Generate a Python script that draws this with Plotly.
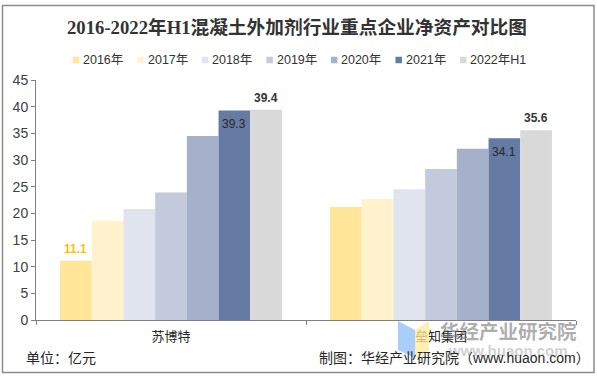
import plotly.graph_objects as go

W, H = 597, 376
L, R, T, B = 36, 21, 80, 56
PW, PH = W - L - R, H - T - B

categories = ["苏博特", "垒知集团"]
series_names = ["2016年", "2017年", "2018年", "2019年", "2020年", "2021年", "2022年H1"]
series_values = [
    [11.1, 21.2],
    [18.6, 22.7],
    [20.8, 24.5],
    [23.9, 28.3],
    [34.5, 32.1],
    [39.3, 34.1],
    [39.4, 35.6],
]
colors = ["#FFE699", "#FFF2CC", "#E0E4EE", "#C3CADB", "#A5B1CA", "#667BA3", "#D9D9D9"]
# (series index, category index, colour, bold, above the bar?)
value_labels = [
    (0, 0, "#FFC000", True, True),
    (5, 0, "#262626", False, False),
    (5, 1, "#262626", False, False),
    (6, 0, "#333333", True, True),
    (6, 1, "#333333", True, True),
]

SANS = "Liberation Sans, Noto Sans CJK SC, sans-serif"
SERIF = "Liberation Serif, Noto Sans CJK SC, serif"
BARW = 31.7

def px(x):
    return (x - L) / PW

def py(y):
    return 1 - (y - T) / PH

fig = go.Figure()
for i, name in enumerate(series_names):
    fig.add_trace(go.Bar(
        name=name, x=categories, y=series_values[i],
        marker=dict(color=colors[i], line_width=0),
        showlegend=False,
    ))

shapes = [
    dict(type="rect", xref="paper", yref="paper", x0=px(2.5), x1=px(594), y0=py(372.5), y1=py(5.5),
         line=dict(color="#8C8C8C", width=1.5), fillcolor="rgba(0,0,0,0)", layer="below"),
    dict(type="path", xref="paper", yref="paper",
         path=f"M {px(398)} {py(321)} L {px(415)} {py(330)} L {px(415)} {py(358)} L {px(398)} {py(350)} Z",
         fillcolor="rgba(140,190,250,0.75)", line_width=0, layer="above"),
    dict(type="path", xref="paper", yref="paper",
         path=f"M {px(415)} {py(330)} L {px(429)} {py(321)} L {px(429)} {py(350)} L {px(415)} {py(358)} Z",
         fillcolor="rgba(255,235,150,0.75)", line_width=0, layer="above"),
]

annotations = [
    dict(text="<b>2016-2022年H1混凝土外加剂行业重点企业净资产对比图</b>", x=px(297), y=py(27), xref="paper", yref="paper",
         showarrow=False, xanchor="center", yanchor="middle",
         font=dict(family=SERIF, size=18.7, color="#333333")),
    dict(text="<b>华经产业研究院</b>", x=px(508), y=py(332), xref="paper", yref="paper",
         showarrow=False, xanchor="center", yanchor="middle",
         font=dict(family=SANS, size=19.5, color="rgba(120,120,120,0.6)")),
    dict(text="<b>www.huaon.com</b>", x=px(508), y=py(350), xref="paper", yref="paper",
         showarrow=False, xanchor="center", yanchor="middle",
         font=dict(family=SANS, size=15, color="rgba(150,150,150,0.45)")),
    dict(text="单位：亿元", x=px(25), y=py(358), xref="paper", yref="paper",
         showarrow=False, xanchor="left", yanchor="middle", xshift=-1,
         font=dict(family=SANS, size=14, color="#262626")),
    dict(text="制图：华经产业研究院（www.huaon.com）", x=px(318), y=py(358), xref="paper", yref="paper",
         showarrow=False, xanchor="left", yanchor="middle", xshift=-1,
         font=dict(family=SANS, size=14, color="#262626")),
]

# value labels anchored to the bars through the axes
for s, c, col, bold, above in value_labels:
    v = series_values[s][c]
    annotations.append(dict(
        text=f"<b>{v}</b>" if bold else f"{v}",
        x=categories[c], y=v, xref="x", yref="y", showarrow=False,
        xanchor="center", yanchor="bottom" if above else "top",
        xshift=(s - 3) * BARW, yshift=3 if above else -5,
        font=dict(family=SANS, size=12, color=col),
    ))

# legend row: small square swatch followed by its name
LEG_X0, LEG_STEP, LEG_Y, SW = 72.7, 64.55, 60, 6.5
for i, name in enumerate(series_names):
    x = LEG_X0 + i * LEG_STEP
    shapes.append(dict(type="rect", xref="paper", yref="paper",
                       x0=px(x), x1=px(x + SW), y0=py(LEG_Y + SW / 2), y1=py(LEG_Y - SW / 2),
                       fillcolor=colors[i], line_width=0))
    annotations.append(dict(text=name, x=px(x + SW + 3), y=py(LEG_Y), xref="paper", yref="paper",
                            showarrow=False, xanchor="left", yanchor="middle", xshift=-1,
                            font=dict(family=SANS, size=12.5, color="#333333")))

fig.update_layout(
    width=W, height=H, autosize=False,
    margin=dict(l=L, r=R, t=T, b=B, pad=0),
    paper_bgcolor="white", plot_bgcolor="white",
    barmode="group", bargap=0.178, bargroupgap=0,
    font=dict(family=SANS, size=13, color="#404040"),
    showlegend=False,
    xaxis=dict(showgrid=False, showline=True, linecolor="#808080", linewidth=1,
               ticks="outside", ticklen=4, tickcolor="#808080", tickson="boundaries",
               tickfont=dict(family=SANS, size=13, color="#262626"), zeroline=False,
               ticklabelstandoff=4),
    yaxis=dict(range=[0, 45], dtick=5, showgrid=False, showline=True, linecolor="#808080", linewidth=1,
               ticks="outside", ticklen=4, tickcolor="#808080", zeroline=False,
               tickfont=dict(family=SANS, size=14, color="#404040")),
    shapes=shapes, annotations=annotations,
)
fig.write_html("out.html", config={"displayModeBar": False},
               post_script="document.body.style.margin='0';document.body.style.overflow='hidden';")
